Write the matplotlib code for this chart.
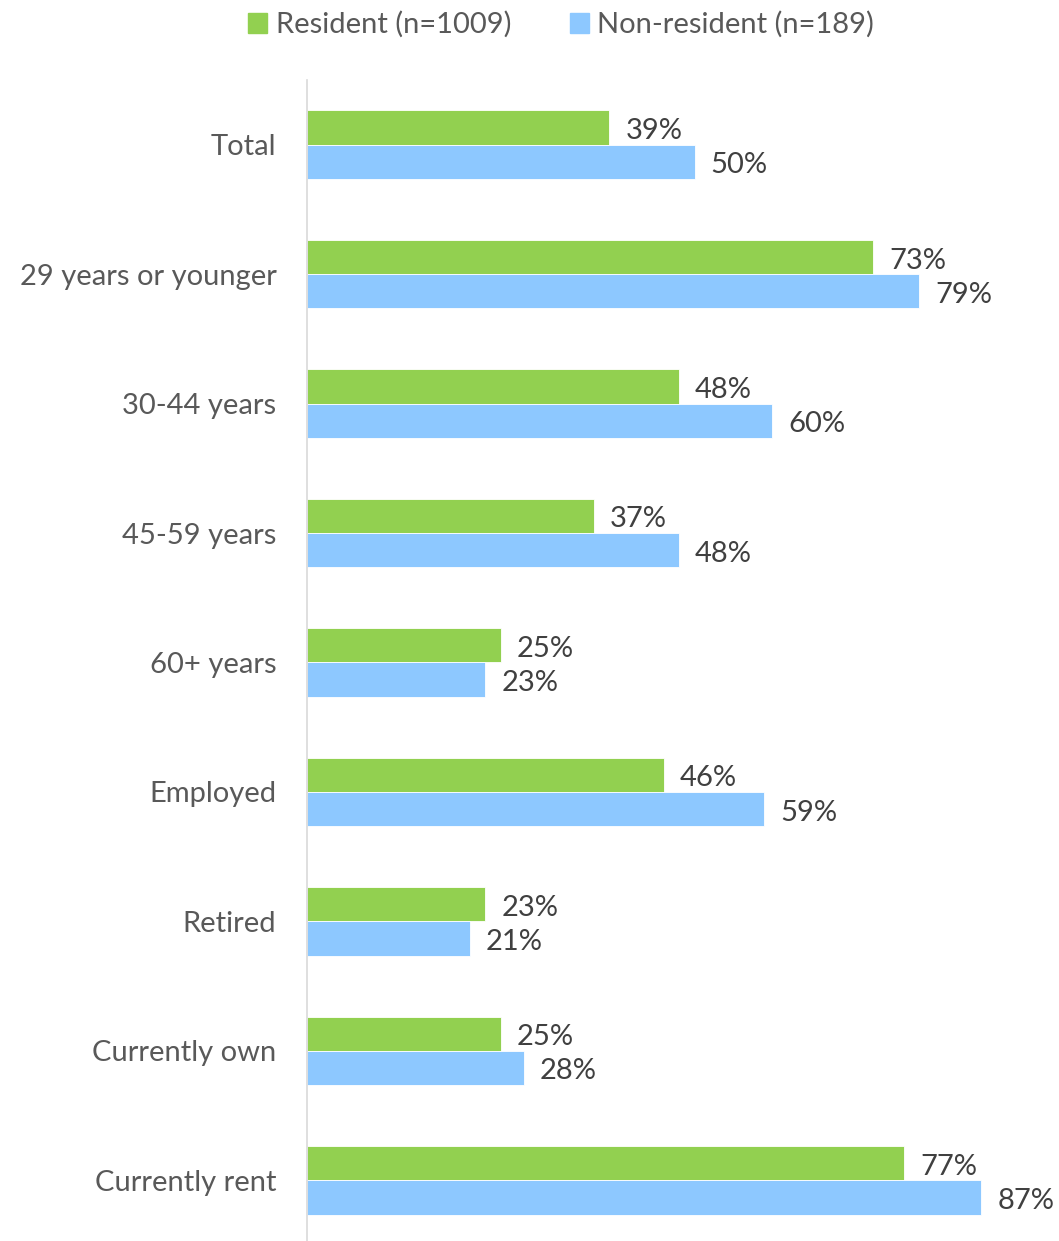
import numpy as np
import matplotlib.pyplot as plt
from matplotlib.patches import Patch

categories = ['Total', '29 years or younger', '30-44 years', '45-59 years',
              '60+ years', 'Employed', 'Retired', 'Currently own', 'Currently rent']
resident = [39, 73, 48, 37, 25, 46, 23, 25, 77]
non_resident = [50, 79, 60, 48, 23, 59, 21, 28, 87]
series_names = ['Resident (n=1009)', 'Non-resident (n=189)']

GREEN = '#92D050'
BLUE = '#8DC8FF'
LABEL_GRAY = '#595959'
VALUE_GRAY = '#404040'

plt.rcParams['font.family'] = ['Lato', 'DejaVu Sans']

fig = plt.figure(figsize=(10.59, 12.41), dpi=100)
ax = fig.add_axes([307 / 1059, -4 / 1241, 752 / 1059, 1165 / 1241])

y = np.arange(len(categories))
h = 0.265
bars_r = ax.barh(y - h / 2, resident, height=h, color=GREEN, edgecolor='white', linewidth=0.6)
bars_n = ax.barh(y + h / 2, non_resident, height=h, color=BLUE, edgecolor='white', linewidth=0.6)

for bars, vals in [(bars_r, resident), (bars_n, non_resident)]:
    for b, v in zip(bars, vals):
        ax.annotate(f'{v}%', (v, b.get_y() + b.get_height() / 2),
                    xytext=(16, -1), textcoords='offset pixels',
                    va='center_baseline', ha='left', fontsize=21, color=VALUE_GRAY)

ax.set_xlim(0, 97)
ax.set_ylim(len(categories) - 0.5, -0.5)
ax.set_yticks(y)
ax.set_yticklabels(categories, fontsize=21, color=LABEL_GRAY)
ax.tick_params(axis='y', length=0, pad=22)
ax.set_xticks([])
for s in ['top', 'right', 'bottom']:
    ax.spines[s].set_visible(False)
ax.spines['left'].set_color('#D9D9D9')
ax.spines['left'].set_linewidth(1.2)

handles = [Patch(color=GREEN), Patch(color=BLUE)]
leg = fig.legend(handles, series_names, loc='upper center', bbox_to_anchor=(0.53, 1.012),
                 ncol=2, frameon=False, fontsize=21, handlelength=0.65, handleheight=0.65,
                 handletextpad=0.3, columnspacing=2.0)
for t in leg.get_texts():
    t.set_color(LABEL_GRAY)

fig.savefig('out.png', dpi=100)
